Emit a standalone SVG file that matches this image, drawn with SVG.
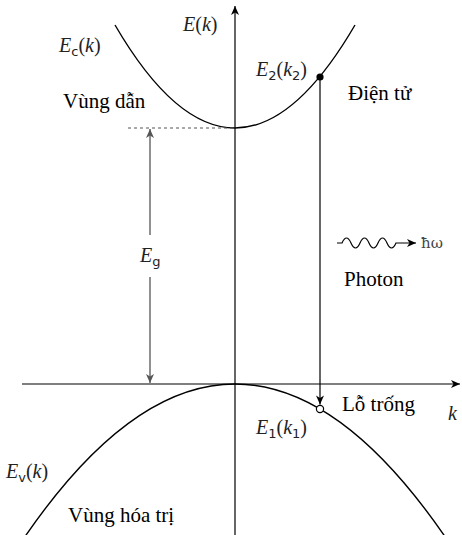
<svg xmlns="http://www.w3.org/2000/svg" width="462" height="535" viewBox="0 0 462 535">
<style>
.curve{fill:none;stroke:#000;stroke-width:1.4}
.ax{fill:none;stroke:#000;stroke-width:1.2}
.lbl{font-family:'Liberation Serif','DejaVu Serif',serif;font-size:21px;fill:#000}
.math{font-family:'Liberation Serif','DejaVu Serif',serif;font-size:20px;font-style:italic;fill:#222}
.up{font-style:normal}
.sub{font-style:normal;font-size:13px;font-family:'DejaVu Sans','Liberation Sans',sans-serif}
.gray{stroke:#555;stroke-width:1.3;fill:none}
</style>
<defs>
<marker id="ah" markerUnits="userSpaceOnUse" markerWidth="14" markerHeight="12" viewBox="-10 -6 12 12" refX="0" refY="0" orient="auto">
<path d="M-9,-4 L0,0 L-9,4 L-6.5,0 Z" fill="#000"/>
</marker>
<marker id="ahg" markerUnits="userSpaceOnUse" markerWidth="14" markerHeight="12" viewBox="-10 -6 12 12" refX="0" refY="0" orient="auto-start-reverse">
<path d="M-9,-4 L0,0 L-9,4 L-6.5,0 Z" fill="#555"/>
</marker>
</defs>
<rect width="462" height="535" fill="#fff"/>

<g id="axes">
<line class="ax" x1="235" y1="535" x2="235" y2="6" marker-end="url(#ah)"/>
<line class="ax" x1="22" y1="384" x2="460" y2="384" marker-end="url(#ah)"/>
</g>

<g id="conduction-band">
<path class="curve" d="M115,25 Q235,231 355,25"/>
</g>
<g id="valence-band">
<path class="curve" d="M25,536.6 Q235,231.4 445,536.6"/>
</g>

<g id="connectors">
<line x1="128" y1="128" x2="235" y2="128" stroke="#555" stroke-width="1" stroke-dasharray="3,3"/>
<line class="gray" x1="150" y1="129" x2="150" y2="235" marker-start="url(#ahg)"/>
<line class="gray" x1="150" y1="277" x2="150" y2="383" marker-end="url(#ahg)"/>
<line class="ax" x1="320" y1="77" x2="320" y2="404.5" marker-end="url(#ah)"/>
<path d="M337,243 L342,243 Q346.5,233 351,243 T360,243 T369,243 T378,243 T387,243 T396,243 L416,243" fill="none" stroke="#000" stroke-width="1.2" marker-end="url(#ah)"/>
</g>

<g id="electron">
<circle cx="320" cy="77" r="3.6" fill="#000"/>
<text class="math" x="256" y="76">E<tspan class="sub" dy="4">2</tspan><tspan class="up" dy="-4">(</tspan>k<tspan class="sub" dy="4">2</tspan><tspan class="up" dy="-4">)</tspan></text>
<text class="lbl" x="348" y="100">Điện tử</text>
</g>

<g id="hole">
<circle cx="320" cy="409" r="3.6" fill="#fff" stroke="#000" stroke-width="1.2"/>
<text class="math" x="256" y="434">E<tspan class="sub" dy="4">1</tspan><tspan class="up" dy="-4">(</tspan>k<tspan class="sub" dy="4">1</tspan><tspan class="up" dy="-4">)</tspan></text>
<text class="lbl" x="342" y="411">Lỗ trống</text>
</g>

<g id="photon">
<text x="421" y="248" font-family="'DejaVu Serif',serif" font-size="15" fill="#444">ħω</text>
<text class="lbl" x="344" y="286">Photon</text>
</g>

<g id="labels">
<text class="math" x="183" y="31">E<tspan class="up">(</tspan>k<tspan class="up">)</tspan></text>
<text class="math" x="59" y="52">E<tspan class="sub" dy="4">c</tspan><tspan class="up" dy="-4">(</tspan>k<tspan class="up">)</tspan></text>
<text class="lbl" x="63" y="108">Vùng dẫn</text>
<text class="math" x="140" y="262">E<tspan class="sub" dy="4">g</tspan></text>
<text class="math" x="448" y="420">k</text>
<text class="math" x="6" y="478">E<tspan class="sub" dy="4">v</tspan><tspan class="up" dy="-4">(</tspan>k<tspan class="up">)</tspan></text>
<text class="lbl" x="68" y="522">Vùng hóa trị</text>
</g>
</svg>
